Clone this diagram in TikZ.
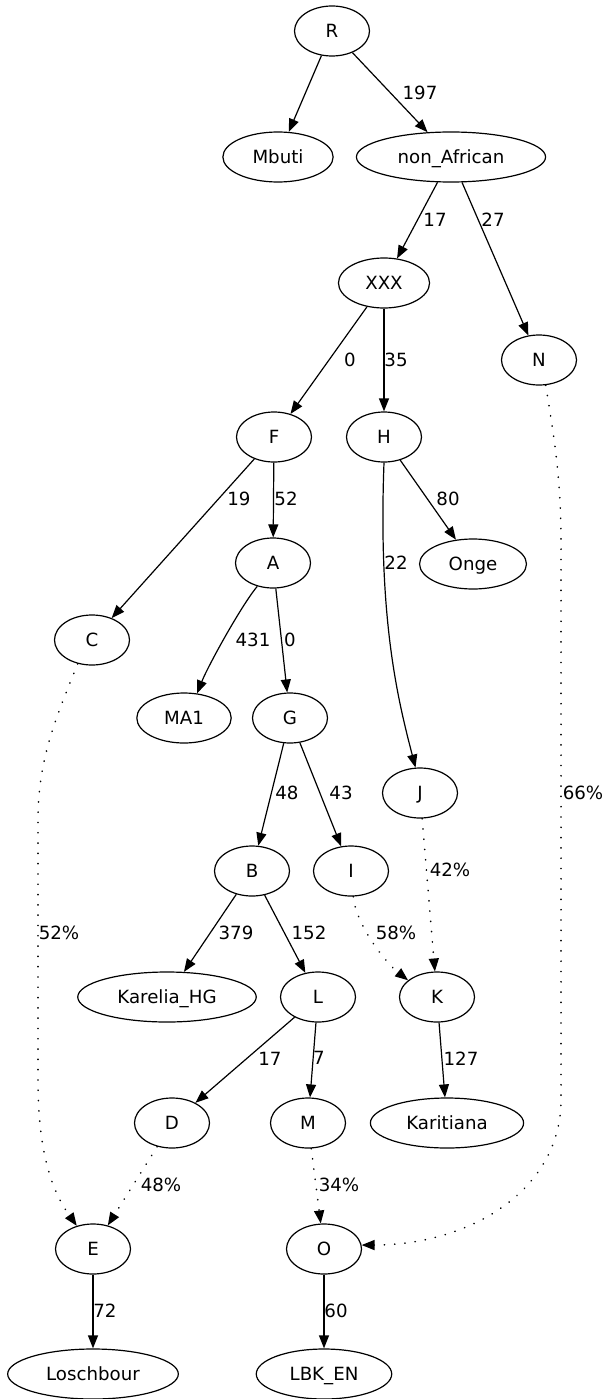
\documentclass[tikz,border=0pt]{standalone}
\usepackage{fontspec}
\setmainfont{DejaVu Sans}
\usetikzlibrary{shapes.geometric,arrows.meta}

\tikzset{
  pop/.style={draw, ellipse, line width=1.2pt, inner xsep=13.5pt, inner ysep=2pt,
    minimum width=75pt, minimum height=50pt, text height=13pt, text depth=0pt},
  wt/.style={inner sep=0pt, text height=13pt, text depth=0pt},
  tree/.style={-{Triangle[length=13pt,width=10pt]}, line width=1.2pt},
  mix/.style={tree, line width=1.6pt, line cap=round, dash pattern=on 0.3pt off 10pt}
}

\begin{document}
\begin{tikzpicture}[x=1pt, y=-1pt, font=\fontsize{18.2}{22}\selectfont]
    \useasboundingbox[fill=white] (0,0) rectangle (606,1399);

    % Populations and inner nodes
    \node[pop] (R) at (332,31) {R};
    \node[pop] (Mbuti) at (278,157) {Mbuti};
    \node[pop] (nonAfrican) at (451,157) {non\_African};
    \node[pop] (XXX) at (384,283) {XXX};
    \node[pop] (N) at (539,360) {N};
    \node[pop] (F) at (274,437) {F};
    \node[pop] (H) at (384,437) {H};
    \node[pop] (A) at (273,563) {A};
    \node[pop] (Onge) at (473,564) {Onge};
    \node[pop] (C) at (92,640) {C};
    \node[pop] (MA1) at (184,718) {MA1};
    \node[pop] (G) at (290,718) {G};
    \node[pop] (J) at (420,793) {J};
    \node[pop] (B) at (252,871) {B};
    \node[pop] (I) at (351,871) {I};
    \node[pop] (KareliaHG) at (167,997) {Karelia\_HG};
    \node[pop] (L) at (318,997) {L};
    \node[pop] (K) at (437,997) {K};
    \node[pop] (D) at (172,1123) {D};
    \node[pop] (M) at (308,1123) {M};
    \node[pop] (Karitiana) at (447,1123) {Karitiana};
    \node[pop] (E) at (93,1249) {E};
    \node[pop] (O) at (324,1249) {O};
    \node[pop] (Loschbour) at (93,1374) {Loschbour};
    \node[pop] (LBKEN) at (324,1374) {LBK\_EN};

    % Drift edges
    \draw[tree] (R) -- (Mbuti);
    \draw[tree] (R) -- (nonAfrican);
    \draw[tree] (nonAfrican) -- (XXX);
    \draw[tree] (nonAfrican) -- (N);
    \draw[tree] (XXX) -- (F);
    \draw[tree] (XXX) -- (H);
    \draw[tree] (F) -- (C);
    \draw[tree] (F) -- (A);
    \draw[tree] (H) -- (Onge);
    \draw[tree] (H.south) .. controls (378,620) and (398,700) .. (J.100);
    \draw[tree] (A.236) .. controls (241,606) and (208,666) .. (MA1.62);
    \draw[tree] (A) -- (G);
    \draw[tree] (G) -- (B);
    \draw[tree] (G) -- (I);
    \draw[tree] (B) -- (KareliaHG);
    \draw[tree] (B) -- (L);
    \draw[tree] (L) -- (D);
    \draw[tree] (L) -- (M);
    \draw[tree] (K) -- (Karitiana);
    \draw[tree] (E) -- (Loschbour);
    \draw[tree] (O) -- (LBKEN);

    % Admixture edges
    \draw[mix] (J) -- (K);
    \draw[mix] (I.-85) .. controls (356,925) and (385,962) .. (K.150);
    \draw[mix] (D) -- (E);
    \draw[mix] (M) -- (O);
    \draw[mix] (C.239) .. controls (55,720) and (38,760) .. (38,820)
        -- (38,1080) .. controls (38,1160) and (55,1195) .. (E.125);
    \draw[mix] (N.-75) .. controls (551,420) and (561,470) .. (561,540)
        -- (561,1100) .. controls (561,1190) and (470,1245) .. (O.6);

    % Edge labels
    \node[wt] (w197) at (420,93) {197};
    \node[wt] (w17a) at (435,220) {17};
    \node[wt] (w27) at (493,220) {27};
    \node[wt] (w0a) at (350,360) {0};
    \node[wt] (w35) at (396,360) {35};
    \node[wt] (w19) at (239,499) {19};
    \node[wt] (w52) at (286,499) {52};
    \node[wt] (w80) at (448,499) {80};
    \node[wt] (w22) at (396,563) {22};
    \node[wt] (w431) at (253,640) {431};
    \node[wt] (w0b) at (290,640) {0};
    \node[wt] (w48) at (287,793) {48};
    \node[wt] (w43) at (341,793) {43};
    \node[wt] (w66) at (583,793) {66\%};
    \node[wt] (w42) at (450,870) {42\%};
    \node[wt] (w52p) at (59,933) {52\%};
    \node[wt] (w379) at (236,933) {379};
    \node[wt] (w152) at (309,933) {152};
    \node[wt] (w58) at (396,933) {58\%};
    \node[wt] (w17b) at (270,1059) {17};
    \node[wt] (w7) at (319,1058) {7};
    \node[wt] (w127) at (461,1059) {127};
    \node[wt] (w48p) at (161,1185) {48\%};
    \node[wt] (w34) at (339,1185) {34\%};
    \node[wt] (w72) at (105,1311) {72};
    \node[wt] (w60) at (336,1311) {60};
\end{tikzpicture}
\end{document}
